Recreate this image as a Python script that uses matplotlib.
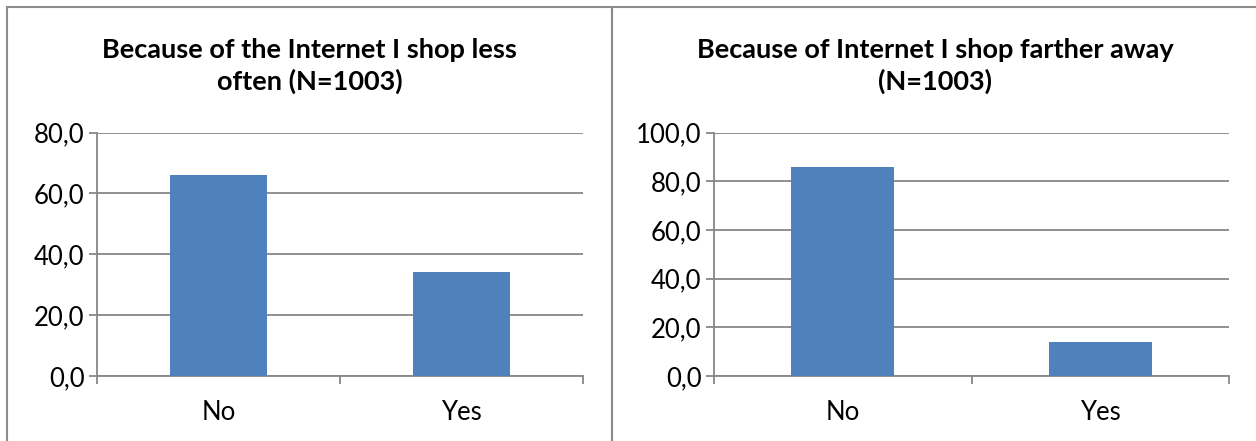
import matplotlib
matplotlib.use("Agg")
import matplotlib.pyplot as plt
from matplotlib.patches import Rectangle
from matplotlib.ticker import FuncFormatter

# survey answers, percent of respondents
categories = ["No", "Yes"]
less_often = [65.9, 34.1]
farther_away = [85.9, 14.1]

titles = ["Because of the Internet I shop less\noften (N=1003)",
          "Because of Internet I shop farther away\n(N=1003)"]
y_max = [80, 100]

W, H = 1256, 441
bar_color = "#4F81BD"
line_color = "#878787"
border_color = "#8C8C8C"

plt.rcParams["font.family"] = ["Lato", "DejaVu Sans"]

fig = plt.figure(figsize=(W / 100, H / 100), dpi=100)


def px_box(x0, x1, y_top, y_bot):
    # pixel box -> figure fraction [left, bottom, width, height]
    return [x0 / W, 1 - y_bot / H, (x1 - x0) / W, (y_bot - y_top) / H]


# chart frames (each chart has its own gray border)
for x0, x1 in [(7, 612), (612, 1258)]:
    fig.patches.append(Rectangle((x0 / W, -0.1), (x1 - x0) / W, 1.1 - 7 / H,
                                 transform=fig.transFigure, fill=False,
                                 edgecolor=border_color, linewidth=1.5, clip_on=False))

axes_px = [(97, 582.5), (714, 1229)]
title_centers = [309.5, 935]

comma_fmt = FuncFormatter(lambda v, p: f"{v:.1f}".replace(".", ","))

for i, values in enumerate([less_often, farther_away]):
    x0, x1 = axes_px[i]
    ax = fig.add_axes(px_box(x0, x1, 132.5, 376))
    ax.bar(range(len(categories)), values, width=0.4, color=bar_color, zorder=3)
    ax.set_xlim(-0.5, len(categories) - 0.5)
    ax.set_ylim(0, y_max[i])
    ax.set_yticks(range(0, y_max[i] + 1, 20))
    ax.yaxis.set_major_formatter(comma_fmt)
    ax.grid(axis="y", color=line_color, linewidth=1.3, zorder=0)
    ax.set_axisbelow(True)

    ax.set_xticks(range(len(categories)))
    ax.set_xticklabels(categories)
    ax.set_xticks([-0.5, 0.5, 1.5], minor=True)
    ax.tick_params(axis="x", which="major", length=0, pad=17, labelsize=18.5)
    ax.tick_params(axis="x", which="minor", length=6, width=1.3, color=line_color)
    ax.tick_params(axis="y", length=6, width=1.3, color=line_color, pad=3, labelsize=18.5)

    for side in ["top", "right"]:
        ax.spines[side].set_visible(False)
    for side in ["left", "bottom"]:
        ax.spines[side].set_color(line_color)
        ax.spines[side].set_linewidth(1.3)

    fig.text(title_centers[i] / W, 1 - 66 / H, titles[i], ha="center", va="center",
             fontsize=19.5, fontweight="bold", linespacing=1.3)

fig.savefig("out.png", dpi=100, facecolor="white")
